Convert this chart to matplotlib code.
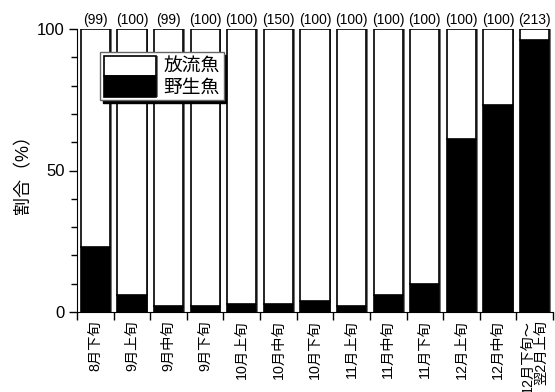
import matplotlib
matplotlib.use("Agg")
import matplotlib.pyplot as plt
import matplotlib.patheffects as pe
import numpy as np

plt.rcParams['font.family'] = ['Liberation Sans', 'Noto Sans CJK JP', 'DejaVu Sans']

periods = ['8月下旬', '9月上旬', '9月中旬', '9月下旬', '10月上旬', '10月中旬',
           '10月下旬', '11月上旬', '11月中旬', '11月下旬', '12月上旬', '12月中旬',
           '12月下旬～\n翌2月上旬']
counts = [99, 100, 99, 100, 100, 150, 100, 100, 100, 100, 100, 100, 213]
wild = [23, 6, 2, 2, 3, 2.7, 4, 2, 6, 10, 61, 73, 96.2]   # 野生魚 (%)
released = [100 - w for w in wild]                          # 放流魚 (%)

fig = plt.figure(figsize=(5.55, 3.92), dpi=100)
ax = fig.add_axes([77 / 555, 1 - 312 / 392, 476 / 555, 283 / 392])

x = np.arange(len(periods))
shadow = [pe.SimplePatchShadow(offset=(1.2, 0), shadow_rgbFace='0.45', alpha=1.0), pe.Normal()]
b_wild = ax.bar(x, wild, width=0.8, color='black', edgecolor='black', linewidth=1.2,
                label='野生魚', path_effects=shadow)
b_rel = ax.bar(x, released, bottom=wild, width=0.8, color='white', edgecolor='black',
               linewidth=1.2, label='放流魚', path_effects=shadow)

for xi, n in zip(x, counts):
    ax.annotate(f'({n})', (xi, 100), xytext=(0, 1.5), textcoords='offset points',
                ha='center', va='bottom', fontsize=10, annotation_clip=False)

ax.set_xlim(-0.5, len(periods) - 0.5)
ax.set_ylim(0, 100)

ax.set_yticks([0, 50, 100])
ax.set_yticks(np.arange(0, 101, 10), minor=True)
ax.tick_params(axis='y', which='major', length=6, width=1, labelsize=12, pad=3)
ax.tick_params(axis='y', which='minor', length=4, width=1)

ax.set_xticks(x)
ax.set_xticklabels(periods, rotation=90, fontsize=10.3, va='top', ha='center',
                   multialignment='right', linespacing=1.0)
ax.set_xticks(np.arange(-0.5, len(periods), 1.0), minor=True)
ax.tick_params(axis='x', which='major', length=0, pad=6)
ax.tick_params(axis='x', which='minor', length=6, width=1)

ax.set_ylabel('割合（%）', fontsize=13)
ax.yaxis.set_label_coords(-0.094, 0.5)

for s in ['top', 'right']:
    ax.spines[s].set_visible(False)

leg = ax.legend(handles=[b_rel, b_wild], labels=['放流魚', '野生魚'],
                loc='upper left', bbox_to_anchor=(0.048, 0.919), fontsize=13.5,
                frameon=True, fancybox=False, edgecolor='0.4', framealpha=1,
                shadow={'color': 'black', 'alpha': 1}, borderpad=0.2,
                labelspacing=0.0, handlelength=2.8, handleheight=1.3,
                handletextpad=0.4, borderaxespad=0)
leg.get_frame().set_linewidth(1.0)

fig.savefig('out.png', dpi=100)
